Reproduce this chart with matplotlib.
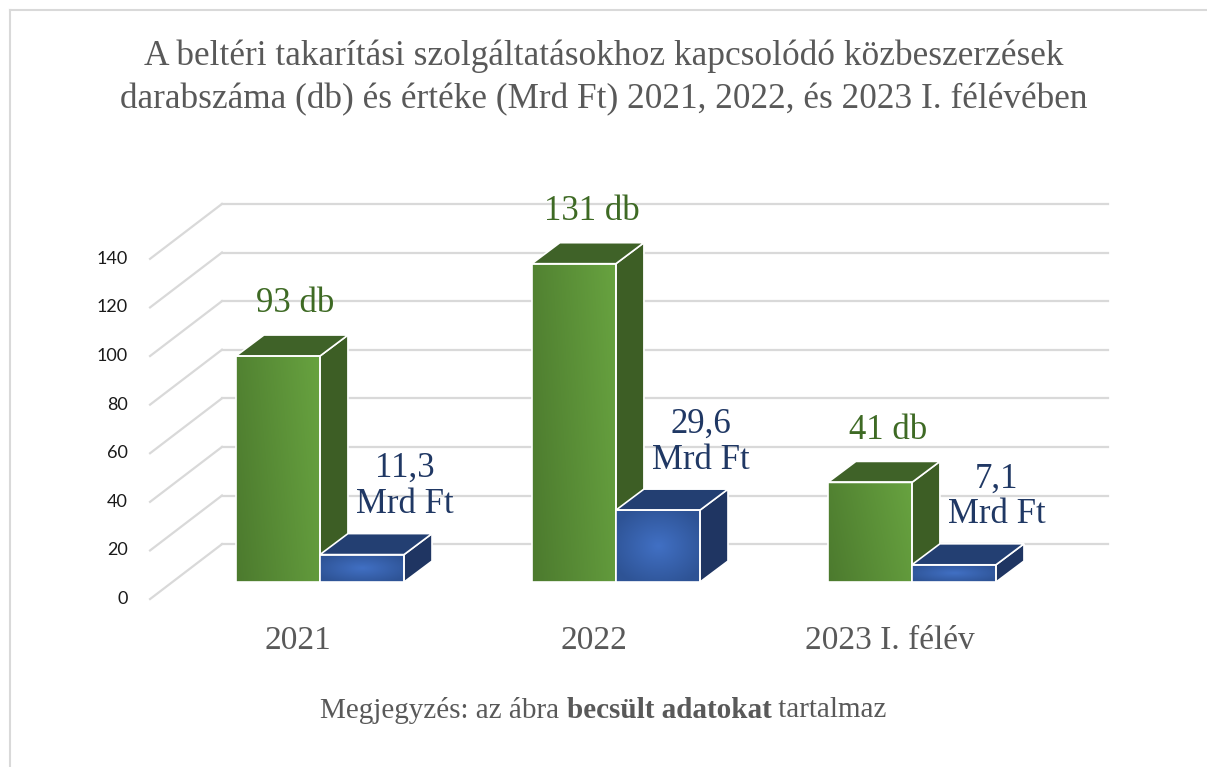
import matplotlib
matplotlib.use("Agg")
import matplotlib.pyplot as plt
from matplotlib.patches import Polygon, Rectangle
from matplotlib.lines import Line2D
import numpy as np

# data
categories = ["2021", "2022", "2023 I. félév"]
counts = [93, 131, 41]            # darab (db)
values = [11.3, 29.6, 7.1]        # Mrd Ft
count_labels = ["93 db", "131 db", "41 db"]
value_labels = ["11,3\nMrd Ft", "29,6\nMrd Ft", "7,1\nMrd Ft"]
yticks = [0, 20, 40, 60, 80, 100, 120, 140]

title = ("A beltéri takarítási szolgáltatásokhoz kapcsolódó közbeszerzések\n"
         "darabszáma (db) és értéke (Mrd Ft) 2021, 2022, és 2023 I. félévében")

SERIF = "Liberation Serif"
GREY = "#595959"
GRID = "#d9d9d9"

# 3d look: depth offsets (x in category units, y in value units)
bw = 0.284
ddx, ddy = 0.0946, 8.64           # bar depth
bdx, bdy = 0.169, 15.6            # back wall offset from bar plane
fdx, fdy = -0.074, -7.0           # front floor edge offset

fig = plt.figure(figsize=(12.07, 7.67), dpi=100)
ax = fig.add_axes([0, 0, 1, 1])
ax.set_axis_off()

# frame of the chart area
fig.add_artist(Line2D([10/1207, 10/1207], [0, 1 - 10/767], color=GRID, lw=1.5))
fig.add_artist(Line2D([10/1207, 1], [1 - 10/767, 1 - 10/767], color=GRID, lw=1.5))

# gridlines: side wall diagonals + back wall
xl, xr = -0.5, 2.493
for t in yticks:
    ax.plot([xl + fdx, xl + bdx], [t + fdy, t + bdy], color=GRID, lw=1.6, zorder=1)
    ax.plot([xl + bdx, xr + bdx], [t + bdy, t + bdy], color=GRID, lw=1.6, zorder=1)
    ax.text(xl + fdx - 0.075, t + fdy, str(t), ha="right", va="center",
            fontsize=13, family="Lato", color="#1a1a1a")

# gradients
gx = np.linspace(0, 1, 64)
c0 = np.array([0x4c, 0x7a, 0x2e]) / 255
c1 = np.array([0x68, 0xa3, 0x40]) / 255
gy = np.linspace(0, 1, 64)[:, None]
mix = np.clip(0.8 * gx[None, :] + 0.2 * (1 - gy), 0, 1)
green_grad = c0 + (c1 - c0) * mix[..., None]

yy, xx = np.mgrid[0:64, 0:64] / 63.0
r = np.clip(np.sqrt(((xx - 0.5) / 0.6) ** 2 + ((yy - 0.5) / 0.6) ** 2), 0, 1)
b0 = np.array([0x41, 0x70, 0xc4]) / 255
b1 = np.array([0x2e, 0x53, 0x95]) / 255
blue_grad = b0 + (b1 - b0) * r[..., None]


def bar3d(x0, h, grad, side_c, top_c, z):
    x1 = x0 + bw
    front = Rectangle((x0, 0), bw, h, facecolor="none", edgecolor="white",
                      lw=1.2, zorder=z + 0.2)
    ax.add_patch(front)
    im = ax.imshow(grad, extent=[x0, x1, 0, h], aspect="auto",
                   origin="upper", zorder=z, interpolation="bilinear")
    im.set_clip_path(front)
    side = Polygon([(x1, 0), (x1 + ddx, ddy), (x1 + ddx, h + ddy), (x1, h)],
                   closed=True, facecolor=side_c, edgecolor="white", lw=1.2,
                   zorder=z)
    top = Polygon([(x0, h), (x0 + ddx, h + ddy), (x1 + ddx, h + ddy), (x1, h)],
                  closed=True, facecolor=top_c, edgecolor="white", lw=1.2,
                  zorder=z)
    ax.add_patch(side)
    ax.add_patch(top)


for i in range(len(categories)):
    bar3d(i - bw, counts[i], green_grad, "#3d5e25", "#3f6228", 2 + i)
    bar3d(i, values[i], blue_grad, "#1f3562", "#233f72", 2.5 + i)

    ax.text(i - bw / 2 + 0.06, counts[i] + 21.5, count_labels[i], ha="center",
            va="center", fontsize=25, family=SERIF, color="#3e6a24")
    ax.text(i + bw / 2 + 0.145, values[i] + 28, value_labels[i], ha="center",
            va="center", fontsize=25, family=SERIF, color="#203864",
            linespacing=1.12)
    ax.text(i + fdx, -24, categories[i], ha="center", va="center",
            fontsize=24, family=SERIF, color=GREY)

ax.set_xlim(-1.081, 2.997)
ax.set_ylim(-76.1, 239.5)

fig.text(0.5, 1 - 78 / 767, title, ha="center", va="center", fontsize=25.4,
         family=SERIF, color=GREY, linespacing=1.38)

# footnote with a bold part
parts = [("Megjegyzés: az ábra ", "normal"), ("becsült adatokat", "bold"),
         (" tartalmaz", "normal")]
renderer = fig.canvas.get_renderer()
texts = []
for s, w in parts:
    t = fig.text(0, 1 - 710 / 767, s, ha="left", va="center", fontsize=21,
                 family=SERIF, weight=w, color=GREY)
    texts.append(t)
widths = [t.get_window_extent(renderer).width for t in texts]
x = (1207 - sum(widths)) / 2
for t, wd in zip(texts, widths):
    t.set_x(x / 1207)
    x += wd

fig.savefig("out.png", dpi=100)
